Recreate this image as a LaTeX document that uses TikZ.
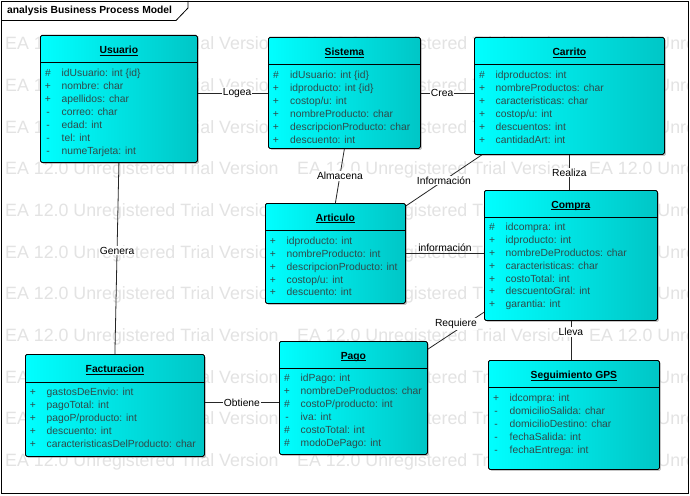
\documentclass[tikz,border=0pt]{standalone}
\usepackage{fontspec}
\setmainfont{Liberation Sans}
\usetikzlibrary{calc,shadows}

\definecolor{boxleft}{HTML}{00FFFF}
\definecolor{boxright}{HTML}{00C6C6}
\definecolor{attrtext}{HTML}{2F4A4A}
\newcommand{\classtitle}[1]{\setbox0\hbox{#1}\rlap{\rule[-1.7pt]{\wd0}{0.8pt}}\box0}

\begin{document}
\begin{tikzpicture}[x=1pt,y=-1pt,
  umlbox/.style={draw=black, line width=0.8pt, rounded corners=1.5pt, left color=boxleft, right color=boxright,
    anchor=north west, inner sep=0pt, drop shadow={shadow xshift=1.5pt, shadow yshift=-1.5pt, fill=black!45, opacity=0.5}},
  ctitle/.style={font=\fontsize{10.3}{12}\selectfont\bfseries, inner sep=0pt},
  vis/.style={font=\fontsize{10.3}{12}\selectfont, text=attrtext, inner sep=0pt, anchor=base},
  attr/.style={font=\fontsize{10.3}{12}\selectfont, text=attrtext, inner sep=0pt, anchor=base west},
  divider/.style={draw=black, line width=0.8pt},
  conn/.style={draw=black!85, line width=0.8pt},
  lbl/.style={font=\fontsize{10.3}{12}\selectfont, fill=white, inner sep=1pt},
  wmark/.style={font=\fontsize{17.8}{20}\selectfont, text=black!11, inner sep=0pt, anchor=west},
  frame/.style={draw=black, line width=0.8pt}]
\useasboundingbox (0,0) rectangle (690,495);
\fill[white] (0,0) rectangle (690,495);

% watermark
\begin{scope}
\clip (1,21) rectangle (688,493);
\foreach \r in {0,...,10}
  \foreach \c in {0,1,2}
    \node[wmark] (wm-\r-\c) at ({5+292*\c},{45+41.7*\r}) {EA 12.0 Unregistered Trial Version};
\end{scope}

% frame
\draw[frame] (1,1) rectangle (688.5,493.5);
\draw[frame] (1,20.5) -- (176,20.5) -- (188,8) -- (188,1);
\node[font=\fontsize{10.3}{12}\selectfont\bfseries, anchor=west, inner sep=0pt] (frametitle) at (7,10.7) {analysis Business Process Model};

% Usuario
\node[umlbox, minimum width=157pt, minimum height=127pt] (usuario) at (40,35) {};
\draw[divider] ($(usuario.north west)+(0,27)$) -- ($(usuario.north east)+(0,27)$);
\node[ctitle] (usuario-t) at ($(usuario.north)+(0,16)$) {\classtitle{Usuario}};
\foreach \v/\t [count=\i from 0] in {\#/{idUsuario: int \{id\}}, +/{nombre: char}, +/{apellidos: char}, -/{correo: char}, -/{edad: int}, -/{tel: int}, -/{numeTarjeta: int}} {
  \node[vis] (usuario-v\i) at ($(usuario.north west)+(8,41.2+13.1*\i)$) {\v};
  \node[attr] (usuario-a\i) at ($(usuario.north west)+(21.5,41.2+13.1*\i)$) {\t};
}

% Sistema
\node[umlbox, minimum width=152pt, minimum height=111pt] (sistema) at (268,37) {};
\draw[divider] ($(sistema.north west)+(0,27)$) -- ($(sistema.north east)+(0,27)$);
\node[ctitle] (sistema-t) at ($(sistema.north)+(0,16)$) {\classtitle{Sistema}};
\foreach \v/\t [count=\i from 0] in {\#/{idUsuario: int \{id\}}, +/{idproducto: int \{id\}}, +/{costop/u: int}, +/{nombreProducto: char}, +/{descripcionProducto: char}, +/{descuento: int}} {
  \node[vis] (sistema-v\i) at ($(sistema.north west)+(8,41.2+13*\i)$) {\v};
  \node[attr] (sistema-a\i) at ($(sistema.north west)+(22,41.2+13*\i)$) {\t};
}

% Carrito
\node[umlbox, minimum width=190pt, minimum height=117pt] (carrito) at (474,37) {};
\draw[divider] ($(carrito.north west)+(0,27)$) -- ($(carrito.north east)+(0,27)$);
\node[ctitle] (carrito-t) at ($(carrito.north)+(0,16)$) {\classtitle{Carrito}};
\foreach \v/\t [count=\i from 0] in {\#/{idproductos: int}, +/{nombreProductos: char}, +/{caracteristicas: char}, +/{costop/u: int}, +/{descuentos: int}, +/{cantidadArt: int}} {
  \node[vis] (carrito-v\i) at ($(carrito.north west)+(8,41.2+13*\i)$) {\v};
  \node[attr] (carrito-a\i) at ($(carrito.north west)+(21.5,41.2+13*\i)$) {\t};
}

% Articulo
\node[umlbox, minimum width=140pt, minimum height=100pt] (articulo) at (265,203) {};
\draw[divider] ($(articulo.north west)+(0,27)$) -- ($(articulo.north east)+(0,27)$);
\node[ctitle] (articulo-t) at ($(articulo.north)+(0,15.5)$) {\classtitle{Articulo}};
\foreach \v/\t [count=\i from 0] in {+/{idproducto: int}, +/{nombreProducto: int}, +/{descripcionProducto: int}, +/{costop/u: int}, +/{descuento: int}} {
  \node[vis] (articulo-v\i) at ($(articulo.north west)+(8,41.7+12.8*\i)$) {\v};
  \node[attr] (articulo-a\i) at ($(articulo.north west)+(21.5,41.7+12.8*\i)$) {\t};
}

% Compra
\node[umlbox, minimum width=173pt, minimum height=130pt] (compra) at (484,190) {};
\draw[divider] ($(compra.north west)+(0,27)$) -- ($(compra.north east)+(0,27)$);
\node[ctitle] (compra-t) at ($(compra.north)+(0,15.5)$) {\classtitle{Compra}};
\foreach \v/\t [count=\i from 0] in {\#/{idcompra: int}, +/{idproducto: int}, +/{nombreDeProductos: char}, +/{caracteristicas: char}, +/{costoTotal: int}, +/{descuentoGral: int}, +/{garantia: int}} {
  \node[vis] (compra-v\i) at ($(compra.north west)+(8,40.7+12.85*\i)$) {\v};
  \node[attr] (compra-a\i) at ($(compra.north west)+(21.5,40.7+12.85*\i)$) {\t};
}

% Facturacion
\node[umlbox, minimum width=179pt, minimum height=102pt] (facturacion) at (25,354) {};
\draw[divider] ($(facturacion.north west)+(0,28)$) -- ($(facturacion.north east)+(0,28)$);
\node[ctitle] (facturacion-t) at ($(facturacion.north)+(0,16)$) {\classtitle{Facturacion}};
\foreach \v/\t [count=\i from 0] in {+/{gastosDeEnvio: int}, +/{pagoTotal: int}, +/{pagoP/producto: int}, +/{descuento: int}, +/{caracteristicasDelProducto: char}} {
  \node[vis] (facturacion-v\i) at ($(facturacion.north west)+(8,41.7+13*\i)$) {\v};
  \node[attr] (facturacion-a\i) at ($(facturacion.north west)+(21.5,41.7+13*\i)$) {\t};
}

% Pago
\node[umlbox, minimum width=148pt, minimum height=113pt] (pago) at (279,341) {};
\draw[divider] ($(pago.north west)+(0,27)$) -- ($(pago.north east)+(0,27)$);
\node[ctitle] (pago-t) at ($(pago.north)+(0,16)$) {\classtitle{Pago}};
\foreach \v/\t [count=\i from 0] in {\#/{idPago: int}, +/{nombreDeProductos: char}, \#/{costoP/producto: int}, -/{iva: int}, \#/{costoTotal: int}, \#/{modoDePago: int}} {
  \node[vis] (pago-v\i) at ($(pago.north west)+(8,40.7+13*\i)$) {\v};
  \node[attr] (pago-a\i) at ($(pago.north west)+(21.5,40.7+13*\i)$) {\t};
}

% Seguimiento GPS
\node[umlbox, minimum width=171pt, minimum height=109pt] (gps) at (488,360) {};
\draw[divider] ($(gps.north west)+(0,27)$) -- ($(gps.north east)+(0,27)$);
\node[ctitle] (gps-t) at ($(gps.north)+(0,16)$) {\classtitle{Seguimiento GPS}};
\foreach \v/\t [count=\i from 0] in {+/{idcompra: int}, -/{domicilioSalida: char}, -/{domicilioDestino: char}, -/{fechaSalida: int}, -/{fechaEntrega: int}} {
  \node[vis] (gps-v\i) at ($(gps.north west)+(8,41.7+13*\i)$) {\v};
  \node[attr] (gps-a\i) at ($(gps.north west)+(21.5,41.7+13*\i)$) {\t};
}

% connectors
\draw[conn] (usuario.east |- sistema.west) -- node[lbl, pos=0.56] {Logea} (sistema.west);
\draw[conn] (sistema.east) -- node[lbl, pos=0.4] {Crea} (sistema.east -| carrito.west);
\draw[conn] (sistema.south) -- node[lbl] {Almacena} (articulo.north);
\draw[conn] (carrito) -- node[lbl, pos=0.5] {Información} (articulo);
\draw[conn] (articulo.east) -- node[font=\fontsize{10.3}{12}\selectfont, above, inner sep=1.5pt] {información} (articulo.east -| compra.west);
\draw[conn] (carrito.south) -- node[lbl] {Realiza} (carrito.south |- compra.north);
\draw[conn] (usuario.south) -- node[lbl, pos=0.46] {Genera} (facturacion.north);
\draw[conn] ([yshift=3pt]facturacion.east) -- node[lbl] {Obtiene} ([yshift=3pt]facturacion.east -| pago.west);
\draw[conn] (compra) -- node[lbl, pos=0.5, yshift=7pt] {Requiere} (pago);
\draw[conn] (compra.south) -- node[lbl, pos=0.28] {Lleva} (compra.south |- gps.north);
\end{tikzpicture}
\end{document}
